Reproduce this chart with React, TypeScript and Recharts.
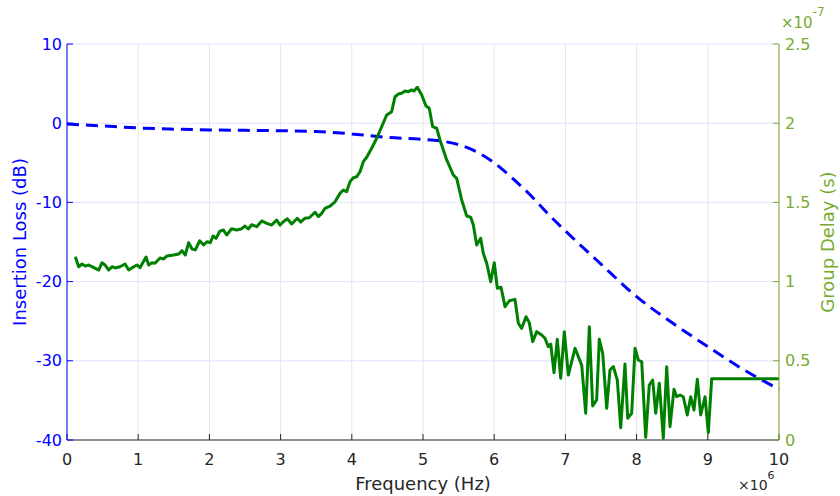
import React from 'react';
import { ComposedChart, Line, XAxis, YAxis, CartesianGrid } from 'recharts';

// Frequency in MHz (axis shows x10^6 Hz)
const freqTicks = [0, 1, 2, 3, 4, 5, 6, 7, 8, 9, 10];
const lossTicks = [-40, -30, -20, -10, 0, 10];
const delayTicks = [0, 0.5, 1, 1.5, 2, 2.5];

// Insertion loss (dB), dashed blue
const lossFreq = [0, 0.5, 1, 1.5, 2, 2.5, 3, 3.5, 4, 4.5, 5, 5.25, 5.5, 5.75, 6, 6.25, 6.5, 6.75, 7, 7.5, 8, 8.5, 9, 9.5, 10];
const lossDb = [-0.1, -0.35, -0.6, -0.75, -0.85, -0.9, -0.95, -1.05, -1.35, -1.8, -2.05, -2.25, -2.7, -3.6, -5.0, -6.9, -9.0, -11.4, -13.6, -17.8, -21.9, -25.2, -28.2, -31.1, -33.6];

// Group delay (units of 1e-7 s), solid green
const delayFreq = [
  0.117, 0.164, 0.211, 0.257, 0.305, 0.351, 0.445, 0.492, 0.534, 0.586, 0.632, 0.674, 0.744, 0.815, 0.867, 0.937, 0.983, 1.025,
  1.110, 1.147, 1.194, 1.236, 1.306, 1.358, 1.404, 1.499, 1.569, 1.615, 1.661, 1.709, 1.756, 1.802, 1.864, 1.920, 1.966, 2.013, 2.051,
  2.093, 2.149, 2.195, 2.243, 2.313, 2.383, 2.454, 2.500, 2.546, 2.594, 2.664, 2.735, 2.805, 2.875, 2.945, 2.992, 3.038, 3.094, 3.156,
  3.235, 3.282, 3.343, 3.403, 3.483, 3.530, 3.577, 3.624, 3.694, 3.764, 3.834, 3.881, 3.928, 3.975, 4.021, 4.069, 4.115,
  4.162, 4.209, 4.279, 4.350, 4.420, 4.490, 4.560, 4.607, 4.653, 4.701, 4.747, 4.794, 4.841, 4.874, 4.920, 4.982, 5.042, 5.088,
  5.136, 5.192, 5.239, 5.333, 5.426, 5.473, 5.544, 5.614, 5.670, 5.707, 5.754, 5.810, 5.847, 5.895, 5.951, 6.001, 6.044, 6.096,
  6.152, 6.212, 6.292, 6.339, 6.386, 6.447, 6.493, 6.541, 6.597, 6.667, 6.713, 6.760, 6.794, 6.840, 6.886, 6.934, 6.985, 7.041,
  7.135, 7.229, 7.285, 7.336, 7.383, 7.439, 7.476, 7.524, 7.580, 7.626, 7.673, 7.729, 7.777, 7.837, 7.875, 7.931, 7.978, 8.024,
  8.072, 8.128, 8.178, 8.226, 8.268, 8.319, 8.375, 8.423, 8.469, 8.525, 8.563, 8.610, 8.656, 8.712, 8.760, 8.806, 8.853, 8.900,
  8.961, 9.007, 9.055, 10.0,
];
const delayValues = [
  1.157, 1.094, 1.111, 1.098, 1.105, 1.094, 1.073, 1.119, 1.105, 1.073, 1.094, 1.086, 1.094, 1.111, 1.073, 1.094, 1.105, 1.088,
  1.155, 1.105, 1.119, 1.116, 1.149, 1.143, 1.162, 1.168, 1.174, 1.195, 1.168, 1.246, 1.206, 1.200, 1.258, 1.231, 1.252, 1.246, 1.288,
  1.273, 1.319, 1.326, 1.294, 1.334, 1.326, 1.334, 1.351, 1.332, 1.359, 1.347, 1.383, 1.368, 1.357, 1.389, 1.357, 1.378, 1.397, 1.364,
  1.400, 1.376, 1.400, 1.403, 1.438, 1.410, 1.431, 1.463, 1.477, 1.504, 1.557, 1.578, 1.568, 1.631, 1.656, 1.662, 1.694,
  1.757, 1.785, 1.842, 1.905, 1.978, 2.052, 2.073, 2.167, 2.184, 2.189, 2.203, 2.199, 2.210, 2.203, 2.227, 2.178, 2.109, 2.094,
  1.978, 1.968, 1.894, 1.768, 1.673, 1.652, 1.515, 1.414, 1.406, 1.357, 1.231, 1.273, 1.179, 1.116, 0.999, 1.119, 0.958, 0.964,
  0.842, 0.879, 0.888, 0.737, 0.705, 0.778, 0.741, 0.621, 0.684, 0.663, 0.642, 0.589, 0.606, 0.425, 0.636, 0.390, 0.684, 0.410,
  0.579, 0.473, 0.169, 0.715, 0.215, 0.253, 0.636, 0.547, 0.200, 0.442, 0.463, 0.379, 0.078, 0.480, 0.137, 0.169, 0.579, 0.505,
  0.494, 0.017, 0.347, 0.379, 0.169, 0.358, 0.011, 0.463, 0.084, 0.320, 0.273, 0.284, 0.273, 0.158, 0.273, 0.189, 0.383, 0.158,
  0.273, 0.046, 0.387, 0.387,
];

const lossData = lossFreq.map((f, i) => ({ f, loss: lossDb[i] }));
const delayData = delayFreq.map((f, i) => ({ f, delay: delayValues[i] }));

const FONT = 'DejaVu Sans';
const BLUE = '#0000ff';
const GREEN = '#008000';
const RAXIS = '#77ac30';
const DARK = '#262626';

const NoTick = () => <g />;

export default function App() {
  return (
    <div style={{ position: 'absolute', left: 0, top: 0, width: 840, height: 496, background: '#fff', fontFamily: FONT }}>
      <ComposedChart width={840} height={496} margin={{ top: 44, right: 11, bottom: 26, left: 7 }}>
        <CartesianGrid yAxisId="left" horizontal={true} vertical={false} stroke="#e2e2ff" />
        <CartesianGrid yAxisId="left" horizontal={false} vertical={true} stroke="#e6e6e6" />
        <XAxis
          dataKey="f"
          type="number"
          domain={[0, 10]}
          ticks={freqTicks}
          stroke={DARK}
          height={30}
          tickSize={-6}
          tickMargin={20}
          tick={{ fill: DARK, fontSize: 16, fontFamily: FONT }}
        />
        <XAxis
          xAxisId="top"
          orientation="top"
          dataKey="f"
          type="number"
          domain={[0, 10]}
          ticks={freqTicks}
          stroke={DARK}
          height={0}
          tickSize={-6}
          tick={NoTick}
        />
        <YAxis
          yAxisId="left"
          type="number"
          domain={[-40, 10]}
          ticks={lossTicks}
          stroke={BLUE}
          width={60}
          tickSize={-6}
          tickMargin={11}
          tick={{ fill: BLUE, fontSize: 16, fontFamily: FONT }}
        />
        <YAxis
          yAxisId="right"
          orientation="right"
          type="number"
          domain={[0, 2.5]}
          ticks={delayTicks}
          stroke={RAXIS}
          width={50}
          tickSize={-6}
          tickMargin={12}
          tick={{ fill: RAXIS, fontSize: 16, fontFamily: FONT }}
        />
        <Line
          yAxisId="left"
          data={lossData}
          dataKey="loss"
          type="monotone"
          stroke={BLUE}
          strokeWidth={3}
          strokeDasharray="12 7"
          dot={false}
          activeDot={false}
          isAnimationActive={false}
        />
        <Line
          yAxisId="right"
          data={delayData}
          dataKey="delay"
          type="linear"
          stroke={GREEN}
          strokeWidth={3}
          strokeLinejoin="round"
          dot={false}
          activeDot={false}
          isAnimationActive={false}
        />
      </ComposedChart>
      <svg width={840} height={496} style={{ position: 'absolute', left: 0, top: 0, pointerEvents: 'none' }}>
        <text x={423} y={490} textAnchor="middle" fontSize={18} fill={DARK} fontFamily={FONT}>Frequency (Hz)</text>
        <text x={0} y={0} transform="translate(26,242) rotate(-90)" textAnchor="middle" fontSize={18} fill={BLUE} fontFamily={FONT}>Insertion Loss (dB)</text>
        <text x={0} y={0} transform="translate(834,242) rotate(-90)" textAnchor="middle" fontSize={18} fill={RAXIS} fontFamily={FONT}>Group Delay (s)</text>
        <text x={781} y={28} fontSize={15} fill={RAXIS} fontFamily={FONT}>
          ×10<tspan dy={-12} fontSize={12}>-7</tspan>
        </text>
        <text x={738} y={490} fontSize={14} fill={DARK} fontFamily={FONT}>
          ×10<tspan dy={-11} fontSize={11}>6</tspan>
        </text>
      </svg>
    </div>
  );
}
